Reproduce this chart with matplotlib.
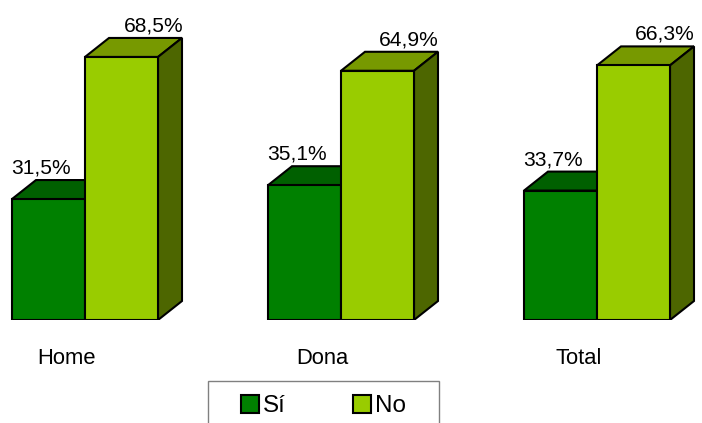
import matplotlib
matplotlib.use("Agg")
import matplotlib.pyplot as plt
from matplotlib.patches import Polygon, Patch, Rectangle

# ---- data ----
categories = ["Home", "Dona", "Total"]
series_names = ["Sí", "No"]
si_values = [31.5, 35.1, 33.7]
no_values = [68.5, 64.9, 66.3]
value_labels_si = ["31,5%", "35,1%", "33,7%"]
value_labels_no = ["68,5%", "64,9%", "66,3%"]

# ---- style ----
plt.rcParams['font.family'] = ['Liberation Sans', 'DejaVu Sans']
front_colors = ["#008000", "#99CC00"]
top_colors = ["#006000", "#779900"]
side_colors = ["#004000", "#4D6600"]
edge_lw = 1.5

W, H = 702, 423
fig = plt.figure(figsize=(W / 100, H / 100), dpi=100)
px_per_unit = 3.84
group_px = 256.0
base_px = 320
ax = fig.add_axes([0, (H - base_px) / H, 1, base_px / H])
ax.set_xlim(-85 / group_px, (W - 85) / group_px)
ax.set_ylim(0, base_px / px_per_unit)

w = 73 / group_px
dx = 24 / group_px
dy = 19 / px_per_unit

xs = list(range(len(categories)))


def draw_3d(lefts, vals, idx, z):
    bars = ax.bar(lefts, vals, width=w, align='edge', color=front_colors[idx],
                  edgecolor='black', linewidth=edge_lw, zorder=z + 1)
    for b in bars:
        x0 = b.get_x()
        v = b.get_height()
        top = Polygon([(x0, v), (x0 + w, v), (x0 + w + dx, v + dy), (x0 + dx, v + dy)],
                      closed=True, facecolor=top_colors[idx], edgecolor='black',
                      linewidth=edge_lw, zorder=z, joinstyle='miter')
        side = Polygon([(x0 + w, 0), (x0 + w + dx, dy), (x0 + w + dx, v + dy), (x0 + w, v)],
                       closed=True, facecolor=side_colors[idx], edgecolor='black',
                       linewidth=edge_lw, zorder=z, joinstyle='miter')
        ax.add_patch(top)
        ax.add_patch(side)
    return bars


si_lefts = [x - w for x in xs]
no_lefts = list(xs)
draw_3d(si_lefts, si_values, 0, 1)
draw_3d(no_lefts, no_values, 1, 4)

for x0, v, lab in zip(si_lefts, si_values, value_labels_si):
    ax.text(x0 + w / 2 - 0.0285, v + dy + 1.7, lab, ha='center', va='baseline',
            fontsize=15.1, zorder=10)
for x0, v, lab in zip(no_lefts, no_values, value_labels_no):
    ax.text(x0 + w / 2 + 0.124, v + dy + 1.7, lab, ha='center', va='baseline',
            fontsize=15.1, zorder=10)

ax.set_xticks([x - 0.071 for x in xs])
ax.set_xticklabels(categories, fontsize=15.8)
ax.tick_params(axis='x', length=0, pad=20)
ax.set_yticks([])
for s in ax.spines.values():
    s.set_visible(False)
ax.patch.set_visible(False)

# legend frame (cut at the bottom of the figure)
fig.patches.append(Rectangle((208 / W, -0.05), (439 - 208) / W, 0.05 + (H - 381) / H,
                             transform=fig.transFigure, facecolor='white',
                             edgecolor='#808080', linewidth=1.0, zorder=0))
handles = [Patch(facecolor=front_colors[i], edgecolor='black', linewidth=1.5,
                 label=series_names[i]) for i in range(2)]
fig.legend(handles=handles, loc='center left', bbox_to_anchor=(240.7 / W, (H - 406) / H),
           ncol=2, frameon=False, fontsize=17.5, borderpad=0, borderaxespad=0,
           handlelength=0.75, handleheight=0.75, handletextpad=0.17, columnspacing=2.75)

fig.savefig("out.png", dpi=100)
